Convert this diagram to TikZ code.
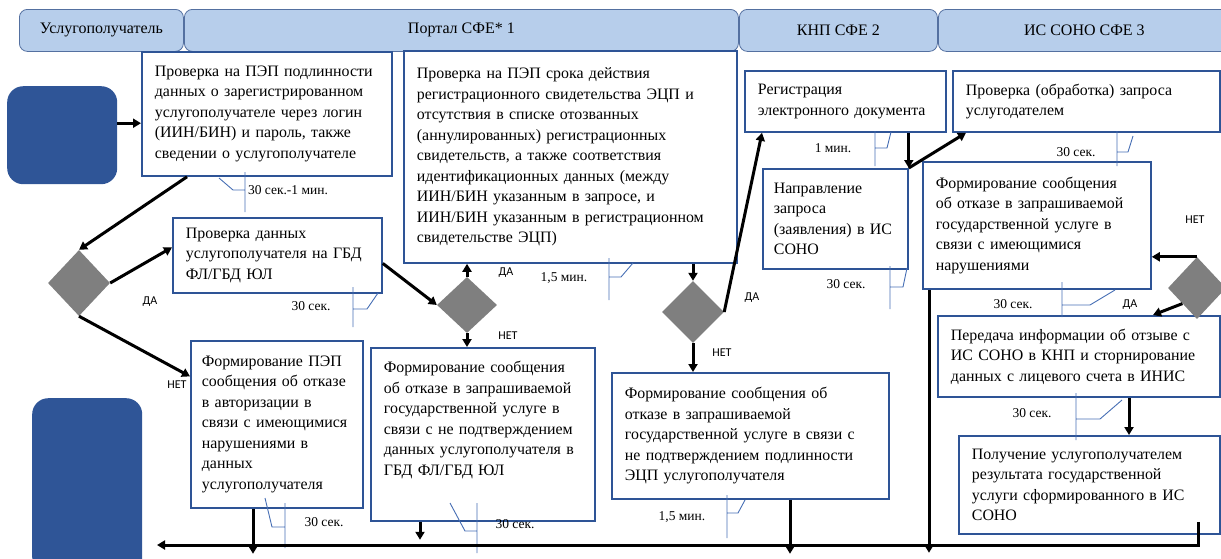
\documentclass[tikz,border=0pt]{standalone}
\usepackage{fontspec}
\setmainfont{Liberation Serif}
\newfontfamily\yesnofont{Carlito}
\usetikzlibrary{arrows.meta,positioning,shapes.geometric}
\definecolor{lanefill}{RGB}{183,206,235}
\definecolor{laneline}{RGB}{84,112,160}
\definecolor{boxline}{RGB}{46,84,150}
\definecolor{termblue}{RGB}{47,85,151}
\definecolor{diagray}{RGB}{127,127,127}
\definecolor{tmblue}{RGB}{70,110,180}

\begin{document}
\begin{tikzpicture}[x=1pt, y=-1pt,
  every node/.style={font=\fontsize{15.9}{20.5}\selectfont},
  lane/.style={draw=laneline, fill=lanefill, rounded corners=8pt, line width=0.8pt, anchor=north west, minimum height=42pt, font=\fontsize{16}{18}\selectfont},
  box/.style={draw=boxline, line width=1.8pt, fill=white, anchor=north west, inner xsep=13pt, inner ysep=0pt, align=left},
  term/.style={fill=termblue, rounded corners=16pt, anchor=north west},
  dia/.style={diamond, fill=diagray, inner sep=0pt},
  tm/.style={font=\fontsize{13.5}{15}\selectfont},
  yn/.style={font=\yesnofont\fontsize{12}{14}\selectfont},
  tmline/.style={draw=tmblue, line width=0.9pt},
  arr/.style={-{Triangle[length=8pt,width=9pt]}, line width=3pt}]
\useasboundingbox (0,0) rectangle (1221,558);
% swimlanes
\node[lane, minimum width=164pt] (lane1) at (19,9) {Услугополучатель};
\node[lane, minimum width=554pt] (lane2) at (184,9) {Портал СФЕ* 1};
\node[lane, minimum width=198pt] (lane3) at (739,9) {КНП СФЕ 2};
\node[lane, minimum width=292pt] (lane4) at (938,9) {ИС СОНО СФЕ 3};
% start / end
\node[term, minimum width=110pt, minimum height=98pt] (start) at (7,86) {};
\node[term, minimum width=110pt, minimum height=175pt] (finish) at (32,398) {};
% steps
\node[box, text width=224pt, minimum height=124pt] (auth) at (141,51) {Проверка на ПЭП подлинности\\данных о зарегистрированном\\услугополучателе через логин\\(ИИН/БИН) и пароль, также\\сведении о услугополучателе};
\node[box, text width=307pt, minimum height=212pt] (ecp) at (403,50) {Проверка на ПЭП срока действия\\регистрационного свидетельства ЭЦП и\\отсутствия в списке отозванных\\(аннулированных) регистрационных\\свидетельств, а также соответствия\\идентификационных данных (между\\ИИН/БИН указанным в запросе, и\\ИИН/БИН указанным в регистрационном\\свидетельстве ЭЦП)};
\node[box, text width=183pt, minimum height=75pt] (gbd) at (172,217) {Проверка данных\\услугополучателя на ГБД\\ФЛ/ГБД ЮЛ};
\node[box, inner xsep=11pt, text width=150pt, minimum height=167pt] (rejauth) at (190,340) {Формирование ПЭП\\сообщения об отказе\\в авторизации в\\связи с имеющимися\\нарушениями в\\данных\\услугополучателя};
\node[box, text width=198pt, minimum height=173pt] (rejgbd) at (370,347) {Формирование сообщения\\об отказе в запрашиваемой\\государственной услуге в\\связи с не подтверждением\\данных услугополучателя в\\ГБД ФЛ/ГБД ЮЛ\\[11.5pt]\mbox{}};
\node[box, text width=251pt, minimum height=126pt] (rejecp) at (611,372) {Формирование сообщения об\\отказе в запрашиваемой\\государственной услуге в связи с\\не подтверждением подлинности\\ЭЦП услугополучателя};
\node[box, text width=175pt, minimum height=61pt] (reg) at (744,70) {Регистрация\\электронного документа};
\node[box, inner xsep=11pt, text width=123pt, minimum height=100pt] (send) at (762,168) {Направление\\запроса\\(заявления) в ИС\\СОНО};
\node[box, text width=241pt, minimum height=61pt] (check) at (952,70) {Проверка (обработка) запроса\\услугодателем};
\node[box, text width=202pt, minimum height=127pt] (rejsono) at (922,161) {Формирование сообщения\\об отказе в запрашиваемой\\государственной услуге в\\связи с имеющимися\\нарушениями};
\node[box, text width=256pt, minimum height=81pt] (revoke) at (937,315) {Передача информации об отзыве с\\ИС СОНО в КНП и сторнирование\\данных с лицевого счета в ИНИС};
\node[box, text width=235pt, minimum height=98pt] (result) at (958,435) {Получение услугополучателем\\результата государственной\\услуги сформированного в ИС\\СОНО};
% decisions
\node[dia, minimum width=62pt, minimum height=66pt] (d1) at (79,283) {};
\node[dia, minimum width=60pt, minimum height=56pt] (d2) at (467,305) {};
\node[dia, minimum width=62pt, minimum height=62pt] (d3) at (693,312) {};
\node[dia, minimum width=58pt, minimum height=62pt] (d4) at (1197,288) {};
% time callouts
\foreach \x/\ya/\yb/\ym/\hx/\ex/\ey in {245/172/212/190/233/219/178, 353/287/327/309/367/378/293, 285/503/548/527/272/265/498, 477/503/553/531/465/450/503, 609/258/300/277/621/633/263, 727/495/538/513/738/745/500, 875/131/166/148/887/891/132, 890/266/309/287/903/907/268, 1117/131/166/152/1128/1133/136, 1062/282/317/305/1090/1115/290, 1076/393/440/419/1100/1122/400}
  \draw[tmline] (\x,\ya) -- (\x,\yb) (\x,\ym) -- (\hx,\ym) -- (\ex,\ey);
\node[tm] (t1) at (288,190) {30 сек.-1 мин.};
\node[tm] (t2) at (311,306) {30 сек.};
\node[tm] (t3) at (324,522) {30 сек.};
\node[tm] (t4) at (515,524) {30 сек.};
\node[tm] (t5) at (564,278) {1,5 мин.};
\node[tm] (t6) at (682,517) {1,5 мин.};
\node[tm] (t7) at (833,148) {1 мин.};
\node[tm] (t8) at (846,284) {30 сек.};
\node[tm] (t9) at (1076,152) {30 сек.};
\node[tm] (t10) at (1013,304) {30 сек.};
\node[tm] (t11) at (1032,413) {30 сек.};
% yes / no
\node[yn] (y1) at (150,302) {ДА};
\node[yn] (n1) at (177,385) {НЕТ};
\node[yn] (y2) at (506,273) {ДА};
\node[yn] (n2) at (508,336) {НЕТ};
\node[yn] (y3) at (752,298) {ДА};
\node[yn] (n3) at (722,353) {НЕТ};
\node[yn] (n4) at (1195,220) {НЕТ};
\node[yn] (y4) at (1130,305) {ДА};
% flow
\coordinate (busL) at (157,545);
\draw[arr] ([yshift=12pt]start.east) -- ([yshift=12pt]start.east -| auth.west);
\draw[arr] ([xshift=46pt]auth.south west) -- (d1.north);
\draw[arr] (d1.east) -- ([yshift=8pt]gbd.west);
\draw[arr] (d1.south) -- ([yshift=48pt]rejauth.west);
\draw[arr] ([yshift=-8pt]gbd.east) -- (d2.west);
\draw[arr] (d2.north) -- (d2.north |- ecp.south);
\draw[arr] (d2.south) -- (d2.south |- rejgbd.north);
\draw[arr] (ecp.south -| d3.north) -- (d3.north);
\draw[arr] (d3.south) -- (d3.south |- rejecp.north);
\draw[arr] (d3.east) -- ([xshift=18pt]reg.south west);
\draw[arr] (send.north east |- reg.south) -- (send.north east);
\draw[arr] (send.north east) -- ([xshift=14pt]check.south west);
\draw[arr] (d4.north) -- (d4.north -| rejsono.east);
\draw[arr] (d4.south west) -- ([xshift=216pt]revoke.north west);
\draw[arr] ([xshift=171pt]result.north west |- revoke.south) -- ([xshift=171pt]result.north west);
% to the finish
\draw[arr] ([xshift=63pt]rejauth.south west) -- ++(0,45);
\draw[arr] ([xshift=50pt]rejgbd.south west) -- ++(0,18);
\draw[arr] ([xshift=179pt]rejecp.south west) -- ++(0,54);
\draw[arr] ([xshift=7pt]rejsono.south west) -- ++(0,263);
\draw[arr] ([xshift=-22pt,yshift=13pt]result.south east) |- (busL);
\end{tikzpicture}
\end{document}
